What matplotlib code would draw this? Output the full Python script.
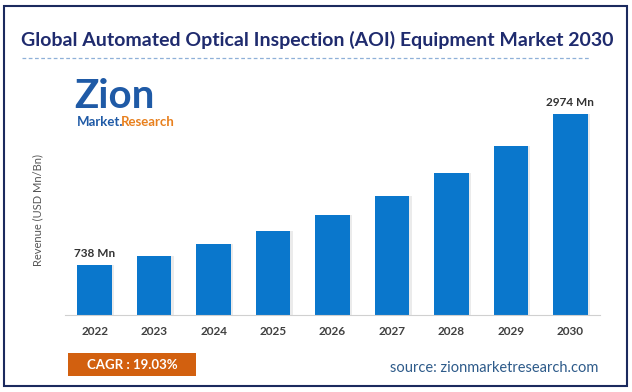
import matplotlib.pyplot as plt
from matplotlib.patches import Rectangle
from matplotlib.lines import Line2D

years = ['2022', '2023', '2024', '2025', '2026', '2027', '2028', '2029', '2030']
revenue = [738, 873, 1050, 1243, 1480, 1760, 2100, 2500, 2974]
labels = {0: '738 Mn', 8: '2974 Mn'}

plt.rcParams['font.family'] = ['Lato', 'DejaVu Sans']

fig = plt.figure(figsize=(6.32, 3.92), dpi=100)
W, H = 632, 392

def fx(px):
    return px / W

def fy(py):
    return 1 - py / H

# border
fig.patches.append(Rectangle((fx(4), fy(386)), fx(623), 380 / H, transform=fig.transFigure,
                             fill=False, edgecolor='#1b2a5e', linewidth=1.5))

fig.text(fx(317), fy(40), 'Global Automated Optical Inspection (AOI) Equipment Market 2030',
         ha='center', va='center', fontsize=14, fontweight='bold', color='#1f2b6e')
fig.lines.append(Line2D([fx(22), fx(590)], [fy(58), fy(58)], transform=fig.transFigure,
                        color='#8fb0d8', linestyle=(0, (3, 2)), linewidth=0.9))

# logo
fig.text(fx(74), fy(115), 'Zion', ha='left', va='bottom', fontsize=29, fontweight='bold', color='#1f5aa6')
fig.text(fx(77), fy(116), 'Market.', ha='left', va='top', fontsize=9.5, fontweight='bold', color='#1f5aa6')
fig.text(fx(121), fy(116), 'Research', ha='left', va='top', fontsize=9.5, fontweight='bold', color='#e8801e')

ax = fig.add_axes([fx(65), fy(315), fx(600) - fx(65), (315 - 80) / H])
x = range(len(years))
ax.bar([i + 0.04 for i in x], revenue, width=0.58, color='#d8d8d8', alpha=0.5, zorder=1)
ax.bar(x, revenue, width=0.58, color='#0a77cc', zorder=2)
for i, t in labels.items():
    ax.text(i, revenue[i] + 90, t, ha='center', va='bottom', fontsize=8.5, fontweight='bold', color='#333333')

ax.set_xlim(-0.5, 8.5)
ax.set_ylim(0, 3480)
ax.set_xticks(list(x))
ax.set_xticklabels(years, fontsize=8.5, fontweight='bold', color='#404040')
ax.set_yticks([])
ax.tick_params(axis='x', length=0, pad=8)
for s in ['top', 'right', 'left']:
    ax.spines[s].set_visible(False)
ax.spines['bottom'].set_color('#d0d0d0')

fig.text(fx(38), fy(210), 'Revenue (USD Mn/Bn)', rotation=90, ha='center', va='center',
         fontsize=8, color='#555555')

# CAGR box
fig.patches.append(Rectangle((fx(68), fy(376)), fx(128), 23 / H, transform=fig.transFigure,
                             facecolor='#d2600f', edgecolor='none'))
fig.text(fx(132), fy(365), 'CAGR : 19.03%', ha='center', va='center', fontsize=9.5,
         fontweight='bold', color='white')
fig.text(fx(598), fy(368), 'source: zionmarketresearch.com', ha='right', va='center',
         fontsize=10.5, color='#2e5b8a')

fig.savefig('out.png', dpi=100)
